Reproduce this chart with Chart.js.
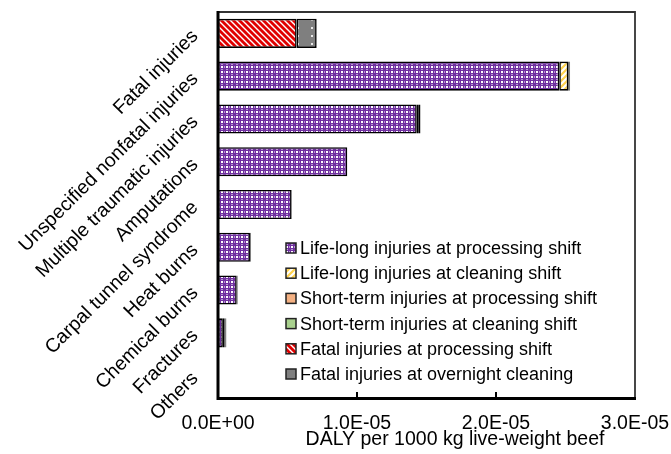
<!DOCTYPE html>
<html>
<head>
<meta charset="utf-8">
<script src="https://cdn.jsdelivr.net/npm/chart.js@4/dist/chart.umd.min.js"></script>
<style>
  html, body { margin: 0; padding: 0; background: #fff; }
  #wrap { width: 671px; height: 454px; position: relative; }
</style>
</head>
<body>
<div id="wrap"><canvas id="chart" width="671" height="454"></canvas></div>
<script>
// Categories, top to bottom
const categories = [
  'Fatal injuries', 'Unspecified nonfatal injuries', 'Multiple traumatic injuries',
  'Amputations', 'Carpal tunnel syndrome', 'Heat burns', 'Chemical burns',
  'Fractures', 'Others'
];

// DALY per 1000 kg live-weight beef
const lifeLongProcessing  = [0, 2.455e-5, 1.43e-5, 9.3e-6, 5.3e-6, 2.3e-6, 1.35e-6, 3.5e-7, 0];
const lifeLongCleaning    = [0, 6.5e-7, 1.5e-7, 0, 0, 5e-8, 5e-8, 1e-7, 0];
const shortTermProcessing = [0, 1e-7, 1e-7, 0, 0, 3e-8, 3e-8, 1e-7, 0];
const shortTermCleaning   = [0, 3e-8, 3e-8, 0, 0, 0, 0, 5e-8, 0];
const fatalProcessing     = [5.66e-6, 0, 0, 0, 0, 0, 0, 0, 0];
const fatalCleaning       = [1.44e-6, 0, 0, 0, 0, 0, 0, 0, 0];

const seriesLabels = [
  'Life-long injuries at processing shift',
  'Life-long injuries at cleaning shift',
  'Short-term injuries at processing shift',
  'Short-term injuries at cleaning shift',
  'Fatal injuries at processing shift',
  'Fatal injuries at overnight cleaning'
];

const xTicks = [0, 1e-5, 2e-5, 3e-5];

const FONT = 'Arial, "Liberation Sans", sans-serif';

// small tile patterns like the spreadsheet fills
function makePattern(w, h, draw) {
  const c = document.createElement('canvas');
  c.width = w; c.height = h;
  const g = c.getContext('2d');
  draw(g, w, h);
  return g.createPattern(c, 'repeat');
}

const purpleCheck = makePattern(5, 5, (g) => {
  g.fillStyle = '#7030a0'; g.fillRect(0, 0, 5, 5);
  g.fillStyle = '#ffffff'; g.fillRect(1, 1, 2, 2);
  g.fillStyle = '#b79ad0'; g.fillRect(4, 1, 1, 2); g.fillRect(1, 4, 2, 1);
});

const yellowStripe = makePattern(6, 6, (g) => {
  g.fillStyle = '#ffffff'; g.fillRect(0, 0, 6, 6);
  g.strokeStyle = '#ffd24d'; g.lineWidth = 2.2;
  g.beginPath();
  g.moveTo(-1, 7); g.lineTo(7, -1);
  g.moveTo(-4, 4); g.lineTo(4, -4);
  g.moveTo(2, 10); g.lineTo(10, 2);
  g.stroke();
});

const redStripe = makePattern(6, 6, (g) => {
  g.fillStyle = '#e00000'; g.fillRect(0, 0, 6, 6);
  g.strokeStyle = '#ffffff'; g.lineWidth = 1.4;
  g.beginPath();
  g.moveTo(-1, -1); g.lineTo(7, 7);
  g.moveTo(-4, 2); g.lineTo(4, 10);
  g.moveTo(2, -4); g.lineTo(10, 4);
  g.stroke();
});

const grayDots = makePattern(14, 8, (g) => {
  g.fillStyle = '#7f7f7f'; g.fillRect(0, 0, 14, 8);
  g.fillStyle = '#e8e8e8'; g.fillRect(3, 3, 2, 2);
});

const fills = [purpleCheck, yellowStripe, '#f4b183', '#a9d18e', redStripe, grayDots];
const seriesData = [lifeLongProcessing, lifeLongCleaning, shortTermProcessing,
  shortTermCleaning, fatalProcessing, fatalCleaning];

const datasets = seriesData.map((data, i) => ({
  label: seriesLabels[i],
  data: data,
  backgroundColor: fills[i],
  borderColor: '#000000',
  borderWidth: 1.6,
  borderSkipped: false,
  barPercentage: 0.68,
  categoryPercentage: 1.0
}));

function formatSci(v) {
  if (v === 0) return '0.0E+00';
  const exp = Math.floor(Math.log10(Math.abs(v)) + 1e-9);
  const mant = v / Math.pow(10, exp);
  const sign = exp < 0 ? '-' : '+';
  return mant.toFixed(1) + 'E' + sign + String(Math.abs(exp)).padStart(2, '0');
}

// frame, inward ticks, axis title and the legend box inside the plot
const decorations = {
  id: 'decorations',
  afterDraw(chart) {
    const ctx = chart.ctx;
    const a = chart.chartArea;
    const x = chart.scales.x;
    ctx.save();
    ctx.strokeStyle = '#333';
    ctx.lineWidth = 1.8;
    ctx.beginPath();
    ctx.moveTo(a.left, a.top); ctx.lineTo(a.right, a.top); ctx.lineTo(a.right, a.bottom);
    ctx.stroke();
    ctx.strokeStyle = '#000';
    ctx.lineWidth = 3;
    ctx.beginPath();
    ctx.moveTo(a.left, a.top - 1); ctx.lineTo(a.left, a.bottom + 1.5); ctx.lineTo(a.right + 1, a.bottom + 1.5);
    ctx.stroke();
    ctx.lineWidth = 2;
    xTicks.slice(1, -1).forEach(v => {
      const px = Math.round(x.getPixelForValue(v));
      ctx.beginPath();
      ctx.moveTo(px, a.bottom); ctx.lineTo(px, a.bottom - 5);
      ctx.stroke();
    });

    ctx.fillStyle = '#000';
    ctx.font = '19.5px ' + FONT;
    ctx.textAlign = 'center';
    ctx.textBaseline = 'middle';
    ctx.fillText('DALY per 1000 kg live-weight beef', 455, 440);

    // legend
    ctx.font = '18px ' + FONT;
    ctx.textAlign = 'left';
    chart.data.datasets.forEach((ds, i) => {
      const cy = 248 + i * 25.2;
      ctx.fillStyle = ds.backgroundColor;
      ctx.fillRect(286, cy - 5, 10, 10);
      ctx.strokeStyle = '#222';
      ctx.lineWidth = 1.5;
      ctx.strokeRect(286, cy - 5, 10, 10);
      ctx.fillStyle = '#000';
      ctx.fillText(ds.label, 300, cy + 1);
    });
    ctx.restore();
  }
};

new Chart(document.getElementById('chart'), {
  type: 'bar',
  data: { labels: categories, datasets: datasets },
  options: {
    indexAxis: 'y',
    responsive: false,
    animation: false,
    layout: { padding: { left: 0, right: 36, top: 12, bottom: 0 } },
    plugins: { legend: { display: false }, tooltip: { enabled: false } },
    scales: {
      x: {
        stacked: true,
        min: 0,
        max: 3e-5,
        afterBuildTicks: (scale) => { scale.ticks = xTicks.map(v => ({ value: v })); },
        afterFit: (scale) => { scale.height = 57; scale.paddingLeft = 0; scale.paddingRight = 0; },
        grid: { display: false, drawTicks: false },
        border: { display: false },
        ticks: {
          color: '#000',
          font: { family: FONT, size: 19.5 },
          padding: 15,
          maxRotation: 0,
          callback: (v) => formatSci(v)
        }
      },
      y: {
        stacked: true,
        afterFit: (scale) => { scale.width = 218; scale.paddingTop = 0; scale.paddingBottom = 0; },
        grid: { display: false, drawTicks: false },
        border: { display: false },
        ticks: {
          color: '#000',
          font: { family: FONT, size: 19.5 },
          padding: 23,
          minRotation: 45,
          maxRotation: 45,
          autoSkip: false
        }
      }
    }
  },
  plugins: [decorations]
});
</script>
</body>
</html>
